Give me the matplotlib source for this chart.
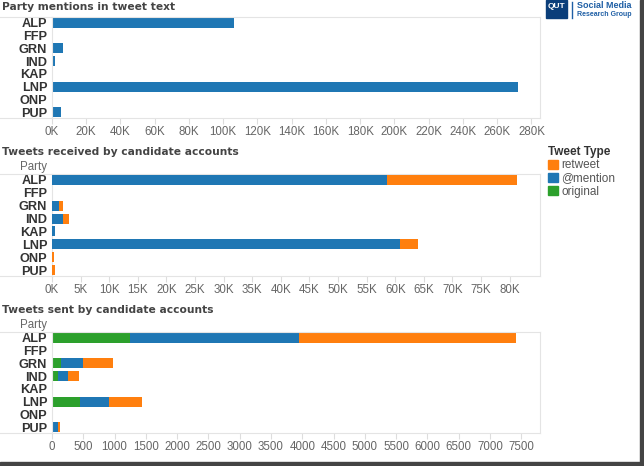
import matplotlib.pyplot as plt
from matplotlib.lines import Line2D
from matplotlib.patches import Rectangle, Patch
from matplotlib.ticker import FuncFormatter

# data
parties = ['ALP', 'FFP', 'GRN', 'IND', 'KAP', 'LNP', 'ONP', 'PUP']
mentions = [106000, 0, 6200, 1800, 500, 272000, 800, 5200]

recv_original = [0, 0, 0, 0, 0, 0, 0, 0]
recv_mention = [58500, 0, 1200, 2000, 450, 60800, 0, 0]
recv_retweet = [22700, 0, 700, 900, 50, 3200, 300, 500]

sent_original = [1250, 0, 150, 90, 0, 450, 0, 10]
sent_mention = [2700, 0, 350, 170, 0, 465, 0, 80]
sent_retweet = [3470, 0, 470, 165, 0, 525, 0, 35]

titles = ['Party mentions in tweet text',
          'Tweets received by candidate accounts',
          'Tweets sent by candidate accounts']

BLUE = '#1f77b4'
ORANGE = '#ff7f0e'
GREEN = '#2ca02c'
W, H = 644, 466

fig = plt.figure(figsize=(6.44, 4.66), dpi=100)
fig.patch.set_facecolor('white')


def make_ax(top, bottom):
    ax = fig.add_axes([52 / W, 1 - bottom / H, (540 - 52) / W, (bottom - top) / H])
    for s in ax.spines.values():
        s.set_color('#e4e4e4')
        s.set_linewidth(0.8)
    ax.tick_params(axis='y', length=0, pad=3.5)
    ax.tick_params(axis='x', length=4, color='#dddddd', colors='#666666',
                   labelsize=8.3, pad=1.5)
    # header lines extend across the label column
    for y in (top, bottom):
        fig.add_artist(Line2D([0, 52 / W], [1 - y / H, 1 - y / H],
                              transform=fig.transFigure, color='#e4e4e4', lw=0.8))
    return ax


def finish(ax):
    ax.set_ylim(7.45, -0.45)
    ax.set_yticks(range(len(parties)))
    ax.set_yticklabels(parties, fontfamily='Liberation Sans', fontweight='bold',
                       fontsize=9.2, color='#333333')
    for lab in ax.get_xticklabels():
        lab.set_fontfamily('Liberation Sans')


kfmt = FuncFormatter(lambda v, p: '%dK' % round(v / 1000))

# panel 1
ax1 = make_ax(17, 118)
ax1.barh(parties, mentions, height=0.78, color=BLUE)
ax1.set_xlim(0, 285000)
ax1.set_xticks(range(0, 280001, 20000))
ax1.xaxis.set_major_formatter(kfmt)
finish(ax1)

# panel 2
ax2 = make_ax(174, 276)
left = [0] * len(parties)
for vals, col in ((recv_original, GREEN), (recv_mention, BLUE), (recv_retweet, ORANGE)):
    ax2.barh(parties, vals, left=left, height=0.78, color=col, zorder=3)
    left = [a + b for a, b in zip(left, vals)]
ax2.set_xlim(0, 85300)
ax2.set_xticks(range(0, 80001, 5000))
ax2.xaxis.set_major_formatter(kfmt)
finish(ax2)

# panel 3
ax3 = make_ax(332, 433)
left = [0] * len(parties)
for vals, col in ((sent_original, GREEN), (sent_mention, BLUE), (sent_retweet, ORANGE)):
    ax3.barh(parties, vals, left=left, height=0.78, color=col)
    left = [a + b for a, b in zip(left, vals)]
ax3.set_xlim(0, 7800)
ax3.set_xticks(range(0, 7501, 500))
finish(ax3)

# titles and "Party" headers
for t, y in zip(titles, (7, 152, 310)):
    fig.text(2 / W, 1 - y / H, t, fontsize=7.7, fontweight='bold', color='#444444',
             va='center', ha='left')
for y in (167, 325):
    fig.text(47 / W, 1 - y / H, 'Party', fontsize=8.3, color='#666666',
             fontfamily='Liberation Sans', va='center', ha='right')

# legend
handles = [Patch(color=ORANGE, label='retweet'),
           Patch(color=BLUE, label='@mention'),
           Patch(color=GREEN, label='original')]
leg = fig.legend(handles=handles, title='Tweet Type', loc='upper left',
                 bbox_to_anchor=(547 / W, 1 - 145 / H), frameon=False,
                 handlelength=0.8, handleheight=0.8, handletextpad=0.3,
                 labelspacing=0.1, borderaxespad=0, borderpad=0.1,
                 prop={'family': 'Liberation Sans', 'size': 8.5},
                 title_fontproperties={'family': 'Liberation Sans', 'size': 8.5,
                                       'weight': 'bold'})
leg._legend_box.align = 'left'
for txt in leg.get_texts():
    txt.set_color('#555555')
leg.get_title().set_color('#333333')

# logo
fig.add_artist(Rectangle((546 / W, 1 - 18 / H), 21 / W, 18 / H,
                         transform=fig.transFigure, color='#0b3e7a'))
fig.text(556.5 / W, 1 - 7 / H, 'QUT', fontsize=6, fontweight='bold', color='white',
         ha='center', va='center', fontfamily='Liberation Sans')
fig.add_artist(Line2D([572 / W, 572 / W], [1 - 2 / H, 1 - 18 / H],
                      transform=fig.transFigure, color='#1f5fa5', lw=1))
fig.text(577 / W, 1 - 6 / H, 'Social Media', fontsize=6.5, fontweight='bold',
         color='#1f5fa5', ha='left', va='center', fontfamily='Liberation Sans')
fig.text(577 / W, 1 - 14 / H, 'Research Group', fontsize=5, fontweight='bold',
         color='#1f5fa5', ha='left', va='center', fontfamily='Liberation Sans')

# screenshot shadow border
fig.add_artist(Rectangle((640 / W, 0), 4 / W, 1, transform=fig.transFigure,
                         color='#444444'))
fig.add_artist(Rectangle((0, 0), 1, 4 / H, transform=fig.transFigure,
                         color='#444444'))

fig.savefig('out.png', dpi=100)
